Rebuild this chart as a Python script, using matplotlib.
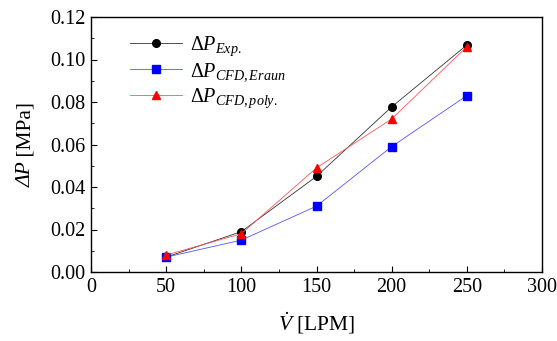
import matplotlib
matplotlib.use("Agg")
import matplotlib.pyplot as plt
from matplotlib.ticker import MultipleLocator, FormatStrFormatter

plt.rcParams["font.family"] = "Liberation Serif"
plt.rcParams["mathtext.fontset"] = "custom"
plt.rcParams["mathtext.rm"] = "Liberation Serif"
plt.rcParams["mathtext.it"] = "Liberation Serif:italic"
plt.rcParams["mathtext.bf"] = "Liberation Serif:bold"

flow = [50, 100, 150, 200, 250]
dp_exp = [0.007, 0.019, 0.045, 0.0777, 0.1068]
dp_eraun = [0.007, 0.015, 0.031, 0.059, 0.083]
dp_poly = [0.008, 0.018, 0.049, 0.072, 0.106]

W, H = 557, 341
fig = plt.figure(figsize=(W / 100, H / 100), dpi=100)
ax = fig.add_axes([91 / W, 1 - 272 / H, 451 / W, 255 / H])

ax.plot(flow, dp_exp, color="#333333", lw=0.6, marker="o", ms=5.5,
        markerfacecolor="black", markeredgecolor="black",
        label=r"$\Delta P_{Exp.}$")
ax.plot(flow, dp_eraun, color="#5555ff", lw=0.6, marker="s", ms=5.5,
        markerfacecolor="blue", markeredgecolor="blue",
        label=r"$\Delta P_{CFD,Eraun}$")
ax.plot(flow, dp_poly, color="#ff5555", lw=0.6, marker="^", ms=6,
        markerfacecolor="red", markeredgecolor="red",
        label=r"$\Delta P_{CFD,poly.}$")

ax.set_xlim(0, 300)
ax.set_ylim(0, 0.12)
ax.xaxis.set_major_locator(MultipleLocator(50))
ax.xaxis.set_minor_locator(MultipleLocator(25))
ax.yaxis.set_major_locator(MultipleLocator(0.02))
ax.yaxis.set_minor_locator(MultipleLocator(0.01))
ax.yaxis.set_major_formatter(FormatStrFormatter("%.2f"))
ax.tick_params(which="both", direction="in", top=False, right=False, labelsize=14.5)
ax.tick_params(which="major", length=4, pad=4)
ax.tick_params(which="minor", length=2.5)
for s in ax.spines.values():
    s.set_linewidth(1.0)

ax.set_xlabel(r"$\dot{V}$ [LPM]", fontsize=15.5, labelpad=10)

# y label: italic "ΔP" followed by upright "[MPa]"
kw = dict(rotation=90, rotation_mode="anchor", ha="left", va="baseline", fontsize=15.5)
t1 = fig.text(0, 0, "ΔP", fontstyle="italic", **kw)
t2 = fig.text(0, 0, " [MPa]", **kw)
fig.canvas.draw()
r = fig.canvas.get_renderer()
l1 = t1.get_window_extent(r).height
l2 = t2.get_window_extent(r).height
xb = 31 / W
y_center = 1 - 144.5 / H
y0 = y_center - (l1 + l2) / 2 / H
t1.set_position((xb, y0))
t2.set_position((xb, y0 + l1 / H))

ax.legend(loc="upper left", bbox_to_anchor=(0.055, 0.985), frameon=False,
          fontsize=14.5, handlelength=2.6, handletextpad=0.4,
          labelspacing=0.15, borderpad=0.2)

fig.savefig("out.png", dpi=100)
